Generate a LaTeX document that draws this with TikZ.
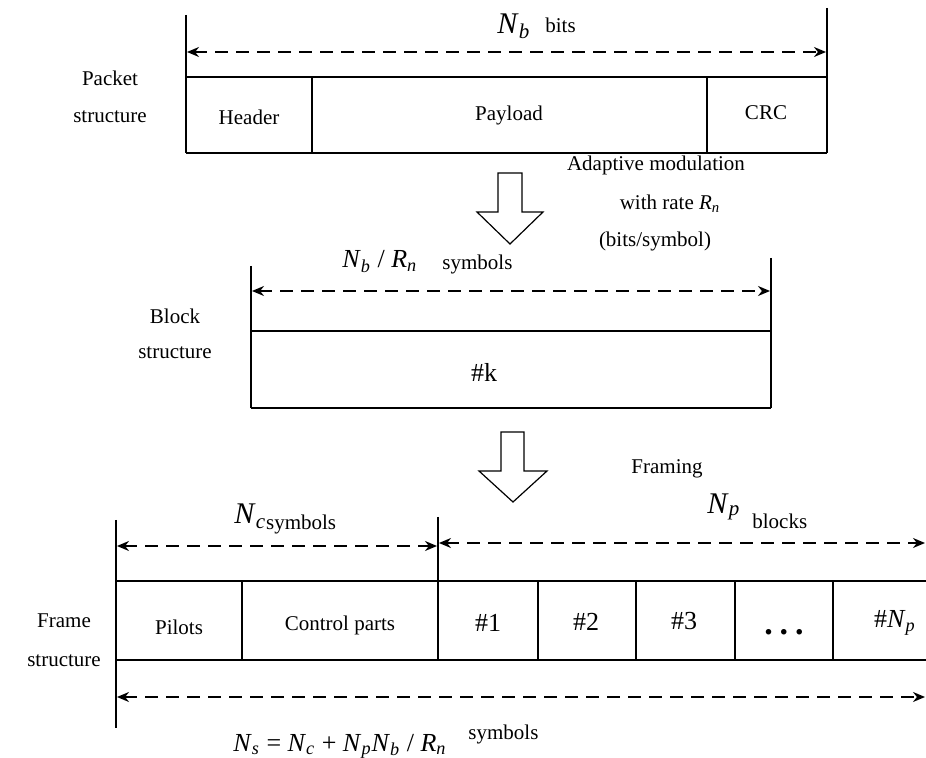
\documentclass[tikz,border=0pt]{standalone}
\usepackage{fontspec}
\setmainfont{Liberation Serif}
\usetikzlibrary{arrows.meta}
\newcommand\sym[2]{\textit{#1}\textsubscript{\textit{#2}}}
\begin{document}
\begin{tikzpicture}[x=0.5pt,y=-0.5pt,
  frame/.style={line width=0.9pt},
  dim/.style={line width=0.8pt, dash pattern=on 6.5pt off 4pt,
    {Stealth[length=6pt,width=5pt]}-{Stealth[length=6pt,width=5pt]}},
  lbl/.style={font=\fontsize{10.5}{12}\selectfont, inner sep=0},
  big/.style={font=\fontsize{15}{17}\selectfont, inner sep=0},
  mid/.style={font=\fontsize{13}{15}\selectfont, inner sep=0},
  hollow/.style={line width=0.6pt, fill=white}
]
\useasboundingbox (0,0) rectangle (926,758);

% ---------- Packet structure ----------
\coordinate (pLt) at (186,15);
\coordinate (pLb) at (186,153);
\coordinate (pRt) at (827,8);
\coordinate (pRb) at (827,153);
\draw[frame] (pLt) -- (pLb);
\draw[frame] (pRt) -- (pRb);
\draw[frame] (186,77) -- (827,77);
\draw[frame] (186,153) -- (827,153);
\draw[frame] (312,77) -- (312,153);
\draw[frame] (707,77) -- (707,153);
\coordinate (pa1) at (187,52);
\coordinate (pa2) at (826,52);
\draw[dim] (pa1) -- (pa2);
\node[lbl] (hdr) at (249,117) {Header};
\node[lbl] (pay) at (509,115) {Payload};
\node[lbl] (crc) at (766,113) {CRC};
\node[big, anchor=base west] (nb) at (497,34) {\sym{N}{b}};
\node[lbl, anchor=base west] (bits) at (545,33) {bits};
\node[lbl] (pk1) at (110,78) {Packet};
\node[lbl] (pk2) at (110,117) {structure};

\node[lbl] (am1) at (656,165) {Adaptive modulation};
\node[lbl] (am2) at (670,204) {with rate \sym{R}{n}};
\node[lbl] (am3) at (655,241) {(bits/symbol)};

% block arrow 1
\draw[hollow] (498,173) -- (522,173) -- (522,212) -- (543,212) -- (510,244)
  -- (477,212) -- (498,212) -- cycle;

% ---------- Block structure ----------
\coordinate (bLt) at (251,266);
\coordinate (bLb) at (251,408);
\coordinate (bRt) at (771,258);
\coordinate (bRb) at (771,408);
\draw[frame] (bLt) -- (bLb);
\draw[frame] (bRt) -- (bRb);
\draw[frame] (251,331) -- (771,331);
\draw[frame] (251,408) -- (771,408);
\coordinate (ba1) at (252,291);
\coordinate (ba2) at (770,291);
\draw[dim] (ba1) -- (ba2);
\node[mid, anchor=base west] (nbrn) at (342,268) {\sym{N}{b} / \sym{R}{n}};
\node[lbl, anchor=base west] (bsym) at (442,270) {symbols};
\node[lbl] (bl1) at (175,316) {Block};
\node[lbl] (bl2) at (175,353) {structure};
\node[mid] (kk) at (484,372) {\#k};

% block arrow 2
\draw[hollow] (501,432) -- (524,432) -- (524,471) -- (547,471) -- (513,502)
  -- (479,471) -- (501,471) -- cycle;
\node[lbl] (frm) at (667,469) {Framing};

% ---------- Frame structure ----------
\coordinate (fLt) at (116,520);
\coordinate (fLb) at (116,728);
\coordinate (fMt) at (438,517);
\coordinate (fMb) at (438,660);
\draw[frame] (fLt) -- (fLb);
\draw[frame] (fMt) -- (fMb);
\draw[frame] (116,581) -- (926,581);
\draw[frame] (116,660) -- (926,660);
\foreach \x in {242,538,636,735,833} \draw[frame] (\x,581) -- (\x,660);
\coordinate (fa1) at (117,546);
\coordinate (fa2) at (437,546);
\coordinate (fa3) at (439,543);
\coordinate (fa4) at (925,543);
\coordinate (fa5) at (117,697);
\coordinate (fa6) at (925,697);
\draw[dim] (fa1) -- (fa2);
\draw[dim] (fa3) -- (fa4);
\draw[dim] (fa5) -- (fa6);
\node[big, anchor=base west] (nc) at (234,524) {\sym{N}{c}\raisebox{-2.5pt}{\fontsize{10.5}{12}\selectfont symbols}};
\node[big, anchor=base west] (np) at (707,514) {\textit{N}\raisebox{-1pt}{\fontsize{10.5}{12}\selectfont\textit{p}}};
\node[lbl, anchor=base west] (npb) at (752,529) {blocks};
\node[lbl] (fr1) at (64,621) {Frame};
\node[lbl] (fr2) at (64,661) {structure};
\node[lbl] (pil) at (179,627) {Pilots};
\node[lbl] (ctl) at (340,625) {Control parts};
\node[mid] (b1) at (488,623) {\#1};
\node[mid] (b2) at (586,622) {\#2};
\node[mid] (b3) at (684,621) {\#3};
\node[font=\fontsize{17}{19}\selectfont\bfseries, inner sep=0, anchor=base] (dots) at (784,634) {.\hspace{3.5pt}.\hspace{3.5pt}.};
\node[mid] (bn) at (895,623) {\#\sym{N}{p}};
\node[mid, anchor=base west] (ns) at (233,751) {\sym{N}{s} = \sym{N}{c} + \sym{N}{p}\sym{N}{b} / \sym{R}{n}};
\node[lbl, anchor=base west] (nssym) at (468,739) {symbols};
\end{tikzpicture}
\end{document}
